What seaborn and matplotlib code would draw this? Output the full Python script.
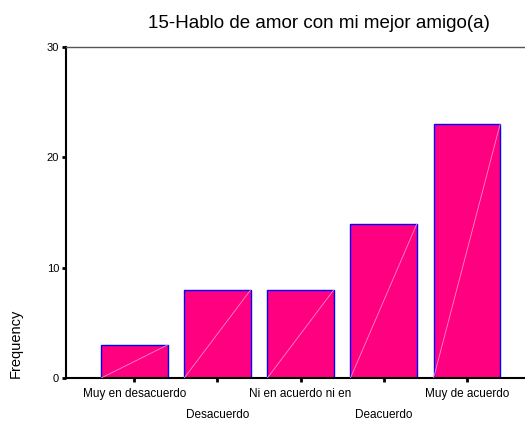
import matplotlib
matplotlib.use('Agg')
import matplotlib.pyplot as plt
import seaborn as sns

categories = ['Muy en desacuerdo', 'Desacuerdo', 'Ni en acuerdo ni en', 'Deacuerdo', 'Muy de acuerdo']
frequency = [3, 8, 8, 14, 23]
yticks = [0, 10, 20, 30]

sns.set_style('white')
plt.rcParams['font.family'] = ['Liberation Sans', 'DejaVu Sans']
plt.rcParams['text.color'] = 'black'
plt.rcParams['xtick.color'] = 'black'
plt.rcParams['ytick.color'] = 'black'
plt.rcParams['axes.labelcolor'] = 'black'

fig = plt.figure(figsize=(5.25, 4.21), dpi=100)
ax = fig.add_axes([0.126, 0.102, 0.874, 0.786])

sns.barplot(x=categories, y=frequency, color='#ff0080', saturation=1,
            edgecolor='#0000ff', linewidth=1, width=0.8, ax=ax)

# faint diagonal through each bar, like the original export
for p in ax.patches:
    x0, w, h = p.get_x(), p.get_width(), p.get_height()
    ax.plot([x0, x0 + w], [0, h], color='#ff8cc6', lw=0.6, zorder=3)

ax.set_xlim(-0.82, 4.7)
ax.set_ylim(0, 30)
ax.set_yticks(yticks)
ax.set_yticklabels([str(t) for t in yticks], fontsize=8)
ax.set_xticks(range(len(categories)))
ax.set_xticklabels(categories, fontsize=8.5)
for i, tick in enumerate(ax.xaxis.get_major_ticks()):
    tick.set_pad(4 if i % 2 == 0 else 19)

ax.tick_params(axis='both', direction='out', length=3, width=2,
               bottom=True, left=True)
ax.tick_params(axis='y', pad=2)

ax.spines['right'].set_visible(False)
ax.spines['top'].set_color('#555555')
ax.spines['top'].set_linewidth(1)
ax.spines['left'].set_color('black')
ax.spines['left'].set_linewidth(1.5)
ax.spines['bottom'].set_color('black')
ax.spines['bottom'].set_linewidth(1.5)

ax.set_ylabel('Frequency', fontsize=10.5)
ax.yaxis.set_label_coords(-0.095, 0.105)
ax.set_title('15-Hablo de amor con mi mejor amigo(a)', fontsize=13.5,
             x=0.55, pad=14)

fig.savefig('out.png', dpi=100)
